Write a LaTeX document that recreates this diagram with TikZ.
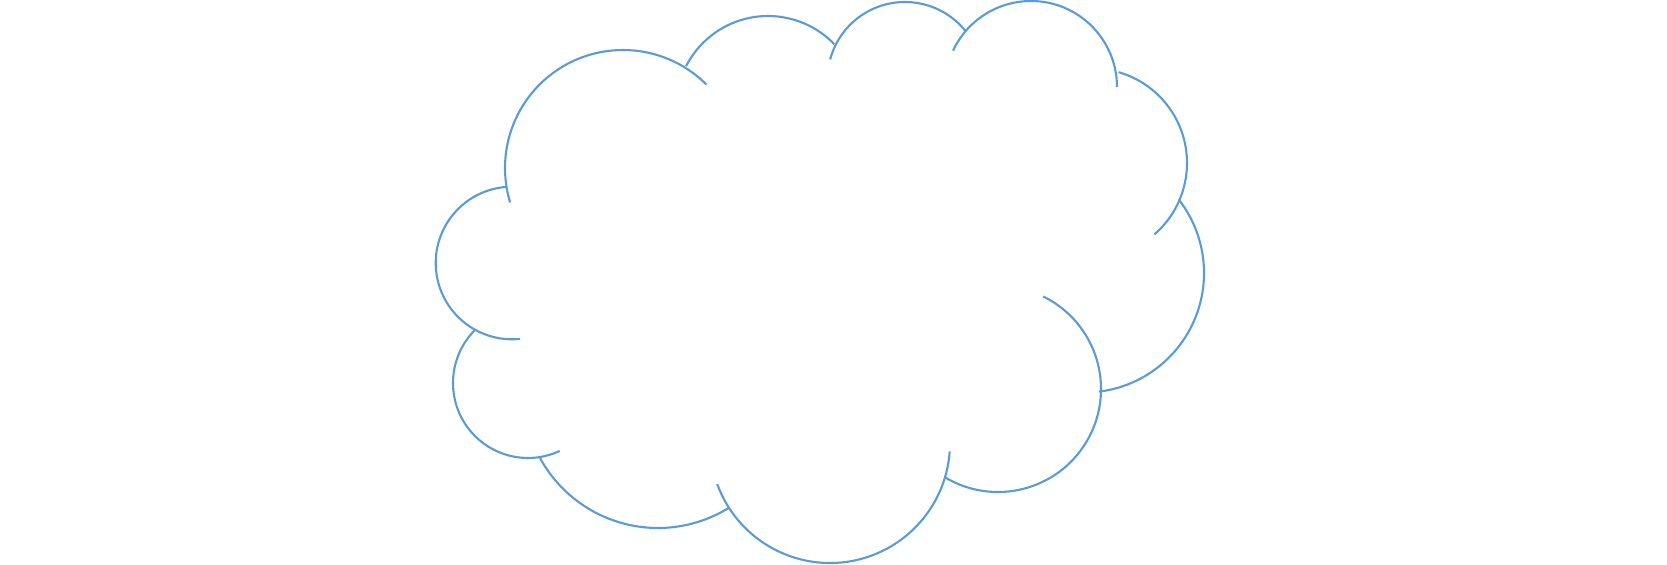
\documentclass[tikz,border=0pt]{standalone}
\definecolor{cloudblue}{HTML}{5B9BD5}
\begin{document}
\begin{tikzpicture}[x=0.5pt,y=0.5pt,
  lobe/.style={draw=cloudblue,line width=1.05pt}]
\useasboundingbox (0,0) rectangle (1667,564);
% lobe centres (y measured upward)
\coordinate (cA) at (623,396);
\coordinate (cB) at (768,456);
\coordinate (cC) at (905,484.5);
\coordinate (cD) at (1031,477);
\coordinate (cE) at (1092.5,401);
\coordinate (cF) at (1084.5,291);
\coordinate (cG) at (998,175);
\coordinate (cH) at (830,121);
\coordinate (cI) at (658,170.5);
\coordinate (cJ) at (528,181);
\coordinate (cK) at (512,301);
\path[lobe] (cA) ++(45:118) arc[start angle=45,end angle=197,radius=118];
\path[lobe] (cB) ++(44:92) arc[start angle=44,end angle=153,radius=92];
\path[lobe] (cC) ++(38:77.5) arc[start angle=38,end angle=165,radius=77.5];
\path[lobe] (cD) ++(0:86) arc[start angle=0,end angle=155,radius=86];
\path[lobe] (cE) ++(-49:94.5) arc[start angle=-49,end angle=74,radius=94.5];
\path[lobe] (cF) ++(-83:119.5) arc[start angle=-83,end angle=38,radius=119.5];
\path[lobe] (cG) ++(-121:103) arc[start angle=-121,end angle=64,radius=103];
\path[lobe] (cH) ++(-160:120) arc[start angle=-160,end angle=-4,radius=120];
\path[lobe] (cI) ++(208.7:134.5) arc[start angle=208.7,end angle=302,radius=134.5];
\path[lobe] (cJ) ++(135:75) arc[start angle=135,end angle=295,radius=75];
\path[lobe] (cK) ++(94.5:76.3) arc[start angle=94.5,end angle=276,radius=76.3];
\end{tikzpicture}
\end{document}
